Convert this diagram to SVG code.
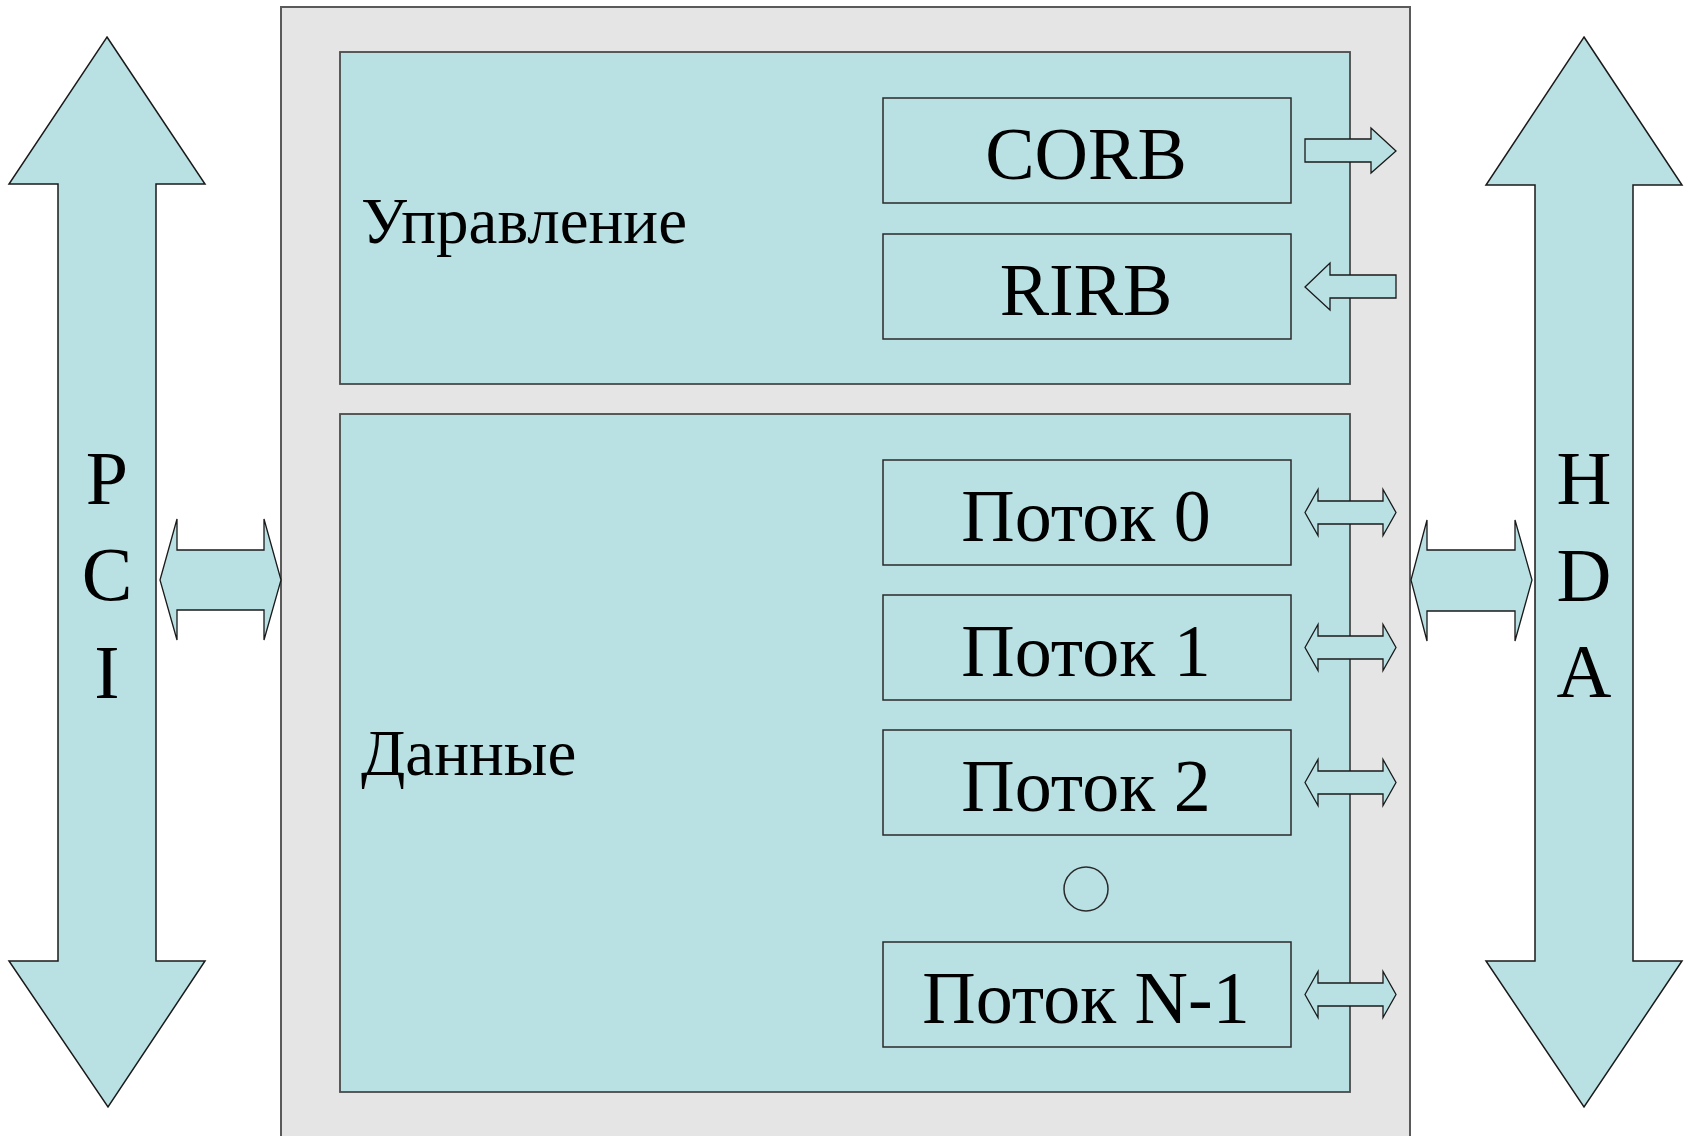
<svg xmlns="http://www.w3.org/2000/svg" width="1688" height="1136" viewBox="0 0 1688 1136">
<style>
.teal{fill:#b9e0e3}
.big{fill:#b9e0e3;stroke:#1a1a1a;stroke-width:1.5;stroke-linejoin:miter}
.panel{fill:#b9e0e3;stroke:#4a4a4a;stroke-width:1.8}
.box{fill:#b9e0e3;stroke:#2a2a2a;stroke-width:1.5}
.arr{fill:#b9e0e3;stroke:#1a1a1a;stroke-width:1.3;stroke-linejoin:miter}
.t{font-family:"Liberation Serif","Times New Roman",serif;fill:#000}
.lbl{font-size:74px;text-anchor:middle}
.sec{font-size:65px}
.bus{font-size:76px;text-anchor:middle}
</style>
<rect width="1688" height="1136" fill="#ffffff"/>
<g id="chip">
<rect x="281" y="7" width="1129" height="1140" fill="#e5e5e5" stroke="#5a5a5a" stroke-width="2"/>
</g>
<g id="pci-bus">
<polygon class="big" points="107,37 205,184 156,184 156,961 205,961 108,1107 9,961 58,961 58,184 9,184"/>
<text class="t bus" x="107" y="504">P</text>
<text class="t bus" x="107" y="600">C</text>
<text class="t bus" x="107" y="698">I</text>
</g>
<g id="hda-bus">
<polygon class="big" points="1584,37 1682,185 1633,185 1633,961 1682,961 1584,1107 1486,961 1535,961 1535,185 1486,185"/>
<text class="t bus" x="1584" y="504">H</text>
<text class="t bus" x="1584" y="601">D</text>
<text class="t bus" x="1584" y="697">A</text>
</g>
<g id="control">
<rect class="panel" x="340" y="52" width="1010" height="332"/>
<text class="t sec" x="361" y="243">Управление</text>
</g>
<g id="corb">
<rect class="box" x="883" y="98" width="408" height="105"/>
<text class="t lbl" x="1086" y="179">CORB</text>
</g>
<g id="rirb">
<rect class="box" x="883" y="234" width="408" height="105"/>
<text class="t lbl" x="1086" y="315">RIRB</text>
</g>
<g id="data">
<rect class="panel" x="340" y="414" width="1010" height="678"/>
<text class="t sec" x="361" y="775">Данные</text>
</g>
<g id="stream0">
<rect class="box" x="883" y="460" width="408" height="105"/>
<text class="t lbl" x="1086" y="541">Поток 0</text>
</g>
<g id="stream1">
<rect class="box" x="883" y="595" width="408" height="105"/>
<text class="t lbl" x="1086" y="676">Поток 1</text>
</g>
<g id="stream2">
<rect class="box" x="883" y="730" width="408" height="105"/>
<text class="t lbl" x="1086" y="811">Поток 2</text>
</g>
<g id="ellipsis">
<circle cx="1086" cy="889" r="22" fill="none" stroke="#2a2a2a" stroke-width="1.5"/>
</g>
<g id="streamN">
<rect class="box" x="883" y="942" width="408" height="105"/>
<text class="t lbl" x="1086" y="1023">Поток N-1</text>
</g>
<g id="connectors">
<polygon class="arr" points="160,580 177,519 177,550 264,550 264,519 281,580 264,640 264,610 177,610 177,640"/>
<polygon class="arr" points="1411,580 1427,520 1427,550 1515,550 1515,520 1532,580 1515,641 1515,611 1427,611 1427,641"/>
<polygon class="arr" points="1305,139 1371,139 1371,128 1396,151 1371,173 1371,162 1305,162"/>
<polygon class="arr" points="1305,287 1330,263 1330,275 1396,275 1396,298 1330,298 1330,310"/>
<polygon class="arr" transform="translate(0,512.5)" points="1305,0 1318,-23 1318,-11.5 1383,-11.5 1383,-23 1396,0 1383,23 1383,11.5 1318,11.5 1318,23"/>
<polygon class="arr" transform="translate(0,647.5)" points="1305,0 1318,-23 1318,-11.5 1383,-11.5 1383,-23 1396,0 1383,23 1383,11.5 1318,11.5 1318,23"/>
<polygon class="arr" transform="translate(0,782.5)" points="1305,0 1318,-23 1318,-11.5 1383,-11.5 1383,-23 1396,0 1383,23 1383,11.5 1318,11.5 1318,23"/>
<polygon class="arr" transform="translate(0,994.5)" points="1305,0 1318,-23 1318,-11.5 1383,-11.5 1383,-23 1396,0 1383,23 1383,11.5 1318,11.5 1318,23"/>
</g>
</svg>
